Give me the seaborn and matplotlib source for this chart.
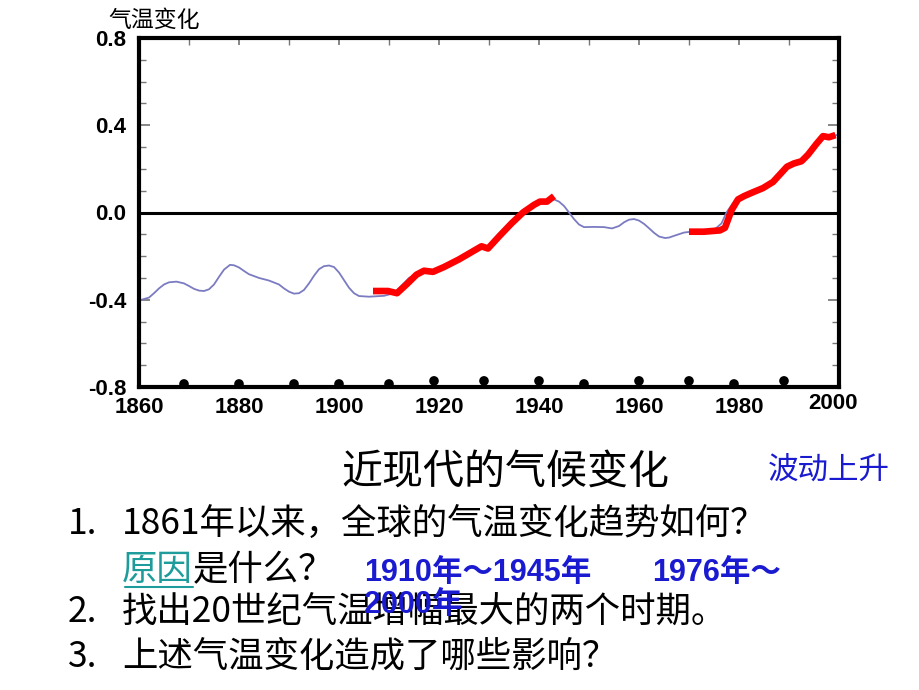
import pandas as pd
import matplotlib.pyplot as plt
import seaborn as sns
from matplotlib.lines import Line2D
from matplotlib.transforms import ScaledTranslation

# 平滑的全球气温距平曲线（蓝色）
blue_years = [1860.5, 1862, 1863, 1864, 1865, 1866, 1867.5, 1869, 1870, 1871, 1872, 1873,
              1874, 1875, 1876, 1877, 1878.2, 1879, 1880, 1881, 1882, 1884, 1886, 1888,
              1889, 1890, 1891, 1892, 1893, 1894, 1895, 1896, 1897, 1898, 1899, 1900,
              1901, 1902, 1903, 1904, 1906, 1909, 1911, 1912.5, 1914, 1916,
              1918, 1920, 1922, 1925, 1928, 1930, 1933, 1936, 1938, 1940, 1942,
              1943, 1944, 1945, 1946, 1947, 1948, 1949, 1951, 1953, 1954.6, 1956, 1957,
              1958, 1959, 1960, 1961, 1962, 1963, 1964, 1965.2, 1966, 1967, 1969, 1971,
              1973, 1975, 1976.5, 1977.5, 1979, 1981, 1983, 1985, 1987, 1989, 1990.5,
              1992, 1993.5, 1995, 1996.8, 1998, 1999.5]
blue_temps = [-0.40, -0.39, -0.37, -0.348, -0.33, -0.32, -0.317, -0.325, -0.337, -0.35,
              -0.358, -0.36, -0.352, -0.33, -0.295, -0.262, -0.24, -0.242, -0.252, -0.268,
              -0.283, -0.30, -0.312, -0.33, -0.348, -0.363, -0.372, -0.37, -0.355, -0.325,
              -0.29, -0.26, -0.246, -0.243, -0.25, -0.275, -0.31, -0.345, -0.37, -0.383,
              -0.386, -0.382, -0.37, -0.335, -0.30, -0.278,
              -0.27, -0.262, -0.24, -0.205, -0.165, -0.16, -0.09, -0.02, 0.02, 0.05, 0.055,
              0.06, 0.05, 0.03, 0.0, -0.03, -0.055, -0.067, -0.066, -0.067, -0.073, -0.062,
              -0.045, -0.033, -0.03, -0.037, -0.052, -0.072, -0.093, -0.11, -0.117, -0.115,
              -0.107, -0.092, -0.086, -0.085, -0.08, -0.05, 0.0, 0.05, 0.08, 0.10, 0.12,
              0.15, 0.20, 0.225, 0.235, 0.26, 0.31, 0.35, 0.345, 0.355]

# 两个升温期（红色）
red1_years = [1906.8, 1909.8, 1911.6, 1913.5, 1915.5, 1917, 1918.8, 1921, 1924, 1927,
              1928.5, 1929.8, 1932, 1934.5, 1936.8, 1939, 1940.2, 1941.6, 1943]
red1_temps = [-0.36, -0.36, -0.37, -0.33, -0.285, -0.267, -0.272, -0.25, -0.215, -0.175,
              -0.155, -0.165, -0.11, -0.05, 0.0, 0.035, 0.05, 0.05, 0.075]
red2_years = [1970, 1973, 1976.2, 1977.2, 1978.5, 1979.8, 1981, 1982.5, 1984.8, 1986.8,
              1988, 1989.6, 1991, 1992.5, 1993.8, 1995.5, 1996.8, 1998, 1999.3]
red2_temps = [-0.088, -0.088, -0.082, -0.07, 0.01, 0.06, 0.075, 0.09, 0.112, 0.14,
              0.17, 0.21, 0.225, 0.235, 0.265, 0.315, 0.35, 0.345, 0.355]

# 底部的黑点
dot_years = [1869, 1880, 1891, 1900, 1910, 1919, 1929, 1940, 1949, 1960, 1970, 1979, 1989]
dot_temps = [-0.786, -0.786, -0.786, -0.786, -0.786, -0.772, -0.772, -0.772, -0.786,
             -0.772, -0.772, -0.786, -0.772]

x_ticks = [1860, 1880, 1900, 1920, 1940, 1960, 1980, 2000]
y_ticks = [-0.8, -0.4, 0.0, 0.4, 0.8]
y_labels = ["-0.8", "-0.4", "0.0", "0.4", "0.8"]

sns.set_theme(style="white")
plt.rcParams["font.family"] = ["Noto Sans CJK SC", "DejaVu Sans"]

W, H = 920, 690
fig = plt.figure(figsize=(W / 100, H / 100), dpi=100)
ax = fig.add_axes([139 / W, 1 - 387 / H, 700 / W, 349 / H])

sns.lineplot(x=blue_years, y=blue_temps, ax=ax, color="#7b7bc2", linewidth=1.3,
             sort=False, estimator=None)
for yrs, vals in [(red1_years, red1_temps), (red2_years, red2_temps)]:
    sns.lineplot(x=yrs, y=vals, ax=ax, color="#ff0000", linewidth=4.8,
                 sort=False, estimator=None, solid_capstyle="butt")
ax.axhline(0, color="black", linewidth=2.2, zorder=1)
sns.scatterplot(x=dot_years, y=dot_temps, ax=ax, color="black", s=48,
                edgecolor="none", clip_on=False, zorder=5)

ax.set_xlim(1860, 2000)
ax.set_ylim(-0.8, 0.8)
for s in ax.spines.values():
    s.set_linewidth(3)
    s.set_color("black")

ax.set_xticks(x_ticks)
ax.set_xticks(range(1870, 2000, 20), minor=True)
ax.set_xticklabels([str(v) for v in x_ticks])
ax.set_yticks(y_ticks)
ax.set_yticks([v / 10 for v in range(-7, 8) if v % 4 != 0], minor=True)
ax.set_yticklabels(y_labels)
ax.tick_params(axis="x", which="both", direction="in", bottom=False, top=True,
               length=5, color="#777777", pad=7)
ax.tick_params(axis="y", which="both", direction="in", left=True, right=True,
               color="#777777", pad=9)
ax.tick_params(axis="y", which="major", length=8)
ax.tick_params(axis="y", which="minor", length=5)
for lbl in ax.get_xticklabels() + ax.get_yticklabels():
    lbl.set_family(["Liberation Sans", "DejaVu Sans"])
    lbl.set_fontweight("bold")
    lbl.set_fontsize(16)
    lbl.set_color("black")
last = ax.get_xticklabels()[-1]
last.set_transform(last.get_transform() + ScaledTranslation(-4 / 72, 3 / 72, fig.dpi_scale_trans))
ax.set_xlabel("")
ax.set_ylabel("")
ax.grid(False)

def put(x, y, s, **kw):
    fig.text(x / W, 1 - y / H, s, va="center", **kw)

put(108, 20, "气温变化", fontsize=16.5, color="black")
put(505, 473, "近现代的气候变化", fontsize=29.5, ha="center", color="black")
put(768, 470, "波动上升", fontsize=22, color="#1a1ad0")

put(68, 524, "1.", fontsize=25.5, color="black")
put(122, 524, "1861年以来，全球的气温变化趋势如何？", fontsize=25.5, color="black")
put(122, 570, "原因", fontsize=25.5, color="#1e9b9b")
fig.add_artist(Line2D([125 / W, 193 / W], [1 - 587 / H, 1 - 587 / H],
                      color="#1e9b9b", linewidth=1.5))
put(193, 570, "是什么？", fontsize=25.5, color="black")
put(68, 612, "2.", fontsize=25.5, color="black")
put(122, 612, "找出20世纪气温增幅最大的两个时期。", fontsize=25.5, color="black")
put(68, 657, "3.", fontsize=25.5, color="black")
put(122, 657, "上述气温变化造成了哪些影响？", fontsize=25.5, color="black")

blue_bold = dict(fontsize=22, color="#1a1ad0", fontweight="bold",
                 family=["Liberation Sans", "Noto Sans CJK SC"])
put(364, 573, "1910年～1945年", **blue_bold)
put(652, 573, "1976年～", **blue_bold)
put(364, 605, "2000年", **blue_bold)

fig.savefig("out.png", dpi=100)
